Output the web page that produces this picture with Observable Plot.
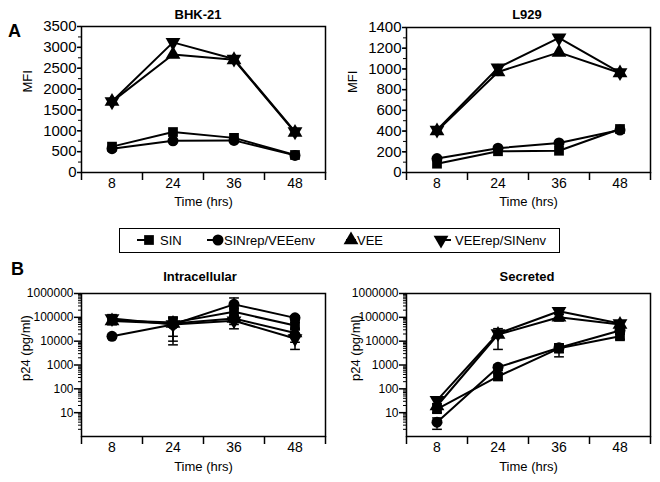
<!DOCTYPE html>
<html><head><meta charset="utf-8">
<script src="https://cdn.jsdelivr.net/npm/d3@7"></script>
<script src="https://cdn.jsdelivr.net/npm/@observablehq/plot@0.6"></script>
<style>
body{margin:0;background:#fff;}
#fig{position:relative;width:660px;height:482px;font-family:"Liberation Sans",Arial,sans-serif;color:#000;overflow:hidden;background:#fff}
.p{position:absolute}
.t{position:absolute;font-weight:bold;font-size:13px;transform:translate(-50%,-50%);white-space:nowrap;line-height:1}
.lab{position:absolute;font-weight:bold;font-size:18px;line-height:18px}
#legend{position:absolute;left:119px;top:228px;width:441px;height:25px;border:1.5px solid #000;box-sizing:border-box}
#legend svg{position:absolute;left:0;top:0}
</style></head><body><div id="fig"></div>
<script>
const times = ["8", "24", "36", "48"];
const seriesNames = ["SIN", "SINrep/VEEenv", "VEE", "VEErep/SINenv"];

// Panel A, BHK-21 (MFI)
const bhkSIN = [620, 970, 830, 420];
const bhkSINrepVEEenv = [570, 760, 770, 410];
const bhkVEE = [1700, 2830, 2700, 960];
const bhkVEErepSINenv = [1700, 3120, 2720, 980];

// Panel A, L929 (MFI)
const lSIN = [85, 205, 210, 420];
const lSINrepVEEenv = [135, 235, 285, 410];
const lVEE = [400, 970, 1160, 960];
const lVEErepSINenv = [410, 1010, 1300, 965];

// Panel B, Intracellular p24 (pg/ml) and SD
const inSIN = [75000, 60000, 170000, 45000];
const inSINrepVEEenv = [16000, 50000, 350000, 95000];
const inVEE = [70000, 55000, 90000, 22000];
const inVEErepSINenv = [90000, 50000, 72000, 13000];
const inSINsd = [15000, 44000, 60000, 15000];
const inSINrepVEEenvSd = [3000, 10000, 300000, 20000];
const inVEEsd = [20000, 45000, 30000, 13000];
const inVEErepSINenvSd = [40000, 43000, 39000, 8500];

// Panel B, Secreted p24 (pg/ml) and SD
const seSIN = [14, 330, 5000, 16000];
const seSINrepVEEenv = [4, 800, 5300, 28000];
const seVEE = [19, 19000, 100000, 50000];
const seVEErepSINenv = [33, 21000, 180000, 55000];
const seSINsd = [4, 100, 2800, 4000];
const seSINrepVEEenvSd = [2, 200, 2000, 8000];
const seVEEsd = [5, 14500, 30000, 15000];
const seVEErepSINenvSd = [10, 5000, 40000, 15000];

const linTicksBHK = d3.range(0, 3501, 500);
const linTicksL = d3.range(0, 1401, 200);
const logTicks = [10, 100, 1000, 10000, 100000, 1000000];

const downTri = {draw(ctx, size) {
  const y = -Math.sqrt(size / (3 * Math.sqrt(3))), s = Math.sqrt(3);
  ctx.moveTo(0, -2 * y); ctx.lineTo(-s * y, y); ctx.lineTo(s * y, y); ctx.closePath();
}};
const cap = {draw(ctx, size) {
  const w = Math.sqrt(size) * 0.55;
  ctx.moveTo(-w, 0); ctx.lineTo(w, 0);
}};
const syms = [d3.symbolSquare, d3.symbolCircle, d3.symbolTriangle, downTri];
const R = 5.5;

function panel(o) {
  const rows = seriesNames.map((s, k) => o.vals[k].map((v, i) => ({
    s, x: i + 0.5, y: v,
    lo: o.sds ? Math.max(v - o.sds[k][i], 1.2) : null,
    hi: o.sds ? v + o.sds[k][i] : null
  })));
  const bounds = d3.range(times.length + 1);
  const centers = times.map((_, i) => i + 0.5);
  const marks = [
    Plot.frame({stroke: "#000", strokeWidth: 1.5}),
    Plot.axisY({ticks: o.yMinor, tickSize: 3, tickFormat: () => "", label: null, strokeWidth: 1}),
    Plot.axisY({ticks: o.yTicks, tickSize: o.tickLen, tickPadding: 1, tickFormat: d3.format("d"), label: null, fontSize: o.yFont, strokeWidth: 1.5}),
    Plot.axisX({ticks: bounds, tickSize: 8, tickFormat: () => "", label: null, strokeWidth: 1.5}),
    Plot.axisX({ticks: centers, tickSize: 0, tickPadding: 6, tickFormat: v => times[Math.floor(v)], label: null, fontSize: 14}),
    Plot.text(["Time (hrs)"], {frameAnchor: "bottom", dy: o.xLabDy, fontSize: 13}),
    Plot.text([o.yLabel], {frameAnchor: "left", dx: o.labDx, dy: o.labDy, rotate: -90, fontSize: 13})
  ];
  rows.forEach(r => marks.push(Plot.line(r, {x: "x", y: "y", stroke: "#000", strokeWidth: 2})));
  if (o.sds) rows.forEach(r => {
    marks.push(Plot.ruleX(r, {x: "x", y1: "lo", y2: "hi", stroke: "#000", strokeWidth: 1.5}));
    marks.push(Plot.dot(r, {x: "x", y: "lo", symbol: cap, r: 5, fill: "none", stroke: "#000", strokeWidth: 1.5}));
    marks.push(Plot.dot(r, {x: "x", y: "hi", symbol: cap, r: 5, fill: "none", stroke: "#000", strokeWidth: 1.5}));
  });
  rows.forEach((r, k) => marks.push(Plot.dot(r, {x: "x", y: "y", symbol: syms[k], r: R, fill: "#000", stroke: "none"})));
  const chart = Plot.plot({
    width: 330, height: o.height,
    marginLeft: o.ml, marginRight: o.mr, marginTop: o.mt, marginBottom: o.height - o.bottom,
    x: {domain: [0, times.length]},
    y: {type: o.yType, domain: o.yDomain},
    style: {fontFamily: "'Liberation Sans', Arial, sans-serif", fontSize: "13px", color: "#000", background: "none", overflow: "visible"},
    marks
  });
  chart.classList.add("p");
  chart.style.left = o.left + "px";
  chart.style.top = o.top + "px";
  return chart;
}

const fig = document.getElementById("fig");
const logMinor = [];
for (let e = 0; e < 6; e++) for (let m = 2; m <= 9; m++) logMinor.push(m * 10 ** e);

fig.appendChild(panel({left: 0, top: 0, height: 215, ml: 81, mr: 5, mt: 26, bottom: 172,
  vals: [bhkSIN, bhkSINrepVEEenv, bhkVEE, bhkVEErepSINenv], yType: "linear", yDomain: [0, 3500],
  yTicks: linTicksBHK, yMinor: d3.range(0, 3501, 250), tickLen: 4, yFont: 15,
  yLabel: "MFI", labDx: -54, labDy: -7, xLabDy: 33}));
fig.appendChild(panel({left: 330, top: 0, height: 215, ml: 76, mr: 10, mt: 27, bottom: 172,
  vals: [lSIN, lSINrepVEEenv, lVEE, lVEErepSINenv], yType: "linear", yDomain: [0, 1400],
  yTicks: linTicksL, yMinor: d3.range(0, 1401, 100), tickLen: 4, yFont: 15,
  yLabel: "MFI", labDx: -54, labDy: -7, xLabDy: 33}));
fig.appendChild(panel({left: 0, top: 280, height: 202, ml: 81, mr: 5, mt: 13, bottom: 156,
  vals: [inSIN, inSINrepVEEenv, inVEE, inVEErepSINenv],
  sds: [inSINsd, inSINrepVEEenvSd, inVEEsd, inVEErepSINenvSd],
  yType: "log", yDomain: [1, 1000000], yTicks: logTicks, yMinor: logMinor, tickLen: 7, yFont: 12,
  yLabel: "p24 (pg/ml)", labDx: -56, labDy: 16, xLabDy: 34}));
fig.appendChild(panel({left: 330, top: 280, height: 202, ml: 76, mr: 10, mt: 13, bottom: 156,
  vals: [seSIN, seSINrepVEEenv, seVEE, seVEErepSINenv],
  sds: [seSINsd, seSINrepVEEenvSd, seVEEsd, seVEErepSINenvSd],
  yType: "log", yDomain: [1, 1000000], yTicks: logTicks, yMinor: logMinor, tickLen: 7, yFont: 12,
  yLabel: "p24 (pg/ml)", labDx: -51, labDy: 16, xLabDy: 34}));

function addDiv(cls, text, x, y) {
  const d = document.createElement("div");
  d.className = cls; d.textContent = text;
  d.style.left = x + "px"; d.style.top = y + "px";
  fig.appendChild(d);
}
addDiv("t", "BHK-21", 198, 14);
addDiv("t", "L929", 527, 14);
addDiv("t", "Intracellular", 200, 276);
addDiv("t", "Secreted", 527, 276);
addDiv("lab", "A", 8, 22);
addDiv("lab", "B", 11, 260);

// Legend
const leg = document.createElement("div");
leg.id = "legend";
fig.appendChild(leg);
const lsvg = d3.select(leg).append("svg").attr("width", 438).attr("height", 22)
  .style("font-family", "'Liberation Sans', Arial, sans-serif").style("font-size", "13px");
const legItems = [
  {line: [17, 26], sym: 29, text: 40},
  {line: [87, 95], sym: 98, text: 104},
  {line: [226, 236], sym: 231, text: 237},
  {line: [321, 331], sym: 321, text: 335}
];
legItems.forEach((it, k) => {
  lsvg.append("line").attr("x1", it.line[0]).attr("x2", it.line[1]).attr("y1", 11).attr("y2", 11)
    .attr("stroke", "#000").attr("stroke-width", 2);
  lsvg.append("path").attr("d", d3.symbol(syms[k], Math.PI * R * R)()).attr("transform", `translate(${it.sym},11)`).attr("fill", "#000");
  lsvg.append("text").attr("x", it.text).attr("y", 11).attr("dy", "0.35em").text(seriesNames[k]);
});
</script></body></html>
